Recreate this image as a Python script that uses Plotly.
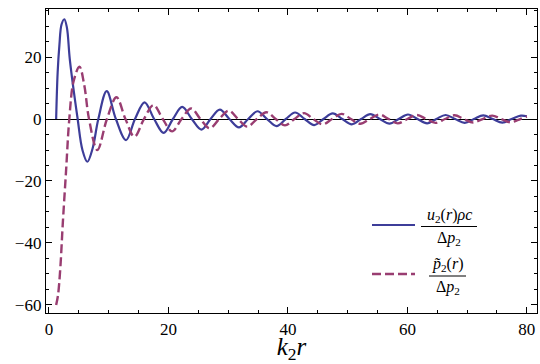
import plotly.graph_objects as go

# solid curve: u2(r) rho c / Delta p2
u_x = [1.2, 1.45, 1.75, 2.1, 2.57, 3.0, 3.5, 4.8, 5.6, 6.42, 7.3, 8.26, 9.66, 11.2, 12.9, 14.4,
       16.0, 17.6, 19.2, 20.75, 22.3, 23.9, 25.5, 27.05, 28.6, 30.2, 31.8, 33.35, 34.9, 36.5,
       38.1, 39.65, 41.2, 42.8, 44.4, 45.95, 47.5, 49.1, 50.7, 52.25, 53.8, 55.4, 57.0, 58.55,
       60.1, 61.7, 63.3, 64.85, 66.4, 68.0, 69.6, 71.15, 72.7, 74.3, 75.9, 77.45, 79.0, 80.0]
u_y = [0, 15, 24, 30.5, 32.2, 29.5, 19, 0, -10, -13.8, -9.5, 0, 9.0, 0, -6.8, 0,
       5.4, 0, -4.5, 0, 3.9, 0, -3.4, 0, 3.0, 0, -2.7, 0, 2.5, 0,
       -2.3, 0, 2.1, 0, -1.95, 0, 1.8, 0, -1.7, 0, 1.6, 0, -1.5, 0,
       1.45, 0, -1.4, 0, 1.3, 0, -1.25, 0, 1.2, 0, -1.15, 0, 1.1, 0.9]

# dashed curve: p~2(r) / Delta p2
p_x = [1.2, 1.5, 1.9, 2.3, 2.85, 3.4, 4.1, 5.1, 5.9, 6.7, 8.1, 9.7, 11.3, 12.8, 14.3, 15.9,
       17.5, 19.05, 20.6, 22.2, 23.8, 25.35, 26.9, 28.5, 30.1, 31.65, 33.2, 34.8, 36.4, 37.95,
       39.5, 41.1, 42.7, 44.25, 45.8, 47.4, 49.0, 50.55, 52.1, 53.7, 55.3, 56.85, 58.4, 60.0,
       61.6, 63.15, 64.7, 66.3, 67.9, 69.45, 71.0, 72.6, 74.2, 75.75, 77.3, 78.9, 80.0]
p_y = [-60, -57, -48, -34, -17, 0, 12, 16.9, 11, 0, -10, 0, 7.0, 0, -5.7, 0,
       4.5, 0, -4.0, 0, 3.4, 0, -3.0, 0, 2.7, 0, -2.45, 0, 2.2, 0,
       -2.05, 0, 1.9, 0, -1.75, 0, 1.65, 0, -1.55, 0, 1.45, 0, -1.4, 0,
       1.3, 0, -1.25, 0, 1.2, 0, -1.15, 0, 1.1, 0, -1.05, 0, 0.8]

x_ticks = [0, 20, 40, 60, 80]
y_ticks = [-60, -40, -20, 0, 20]

# legend labels (fractions)
num_u = "<i>u</i><sub>2</sub>(<i>r</i>)<i>ρc</i>"
den_u = "Δ<i>p</i><sub>2</sub>"
num_p = "<i>p̃</i><sub>2</sub>(<i>r</i>)"
den_p = "Δ<i>p</i><sub>2</sub>"

BLUE = "#3d3d99"
PURPLE = "#993d71"
FONT = "Liberation Serif"
DASH = "9px,4px"

fig = go.Figure()
fig.add_trace(go.Scatter(x=u_x, y=u_y, mode="lines", showlegend=False,
                         line=dict(color=BLUE, width=2.2, shape="spline", smoothing=1.0)))
fig.add_trace(go.Scatter(x=p_x, y=p_y, mode="lines", showlegend=False,
                         line=dict(color=PURPLE, width=2.4, shape="spline", smoothing=1.0,
                                   dash=DASH)))

fig.update_xaxes(range=[-0.5, 81.7], tickvals=x_ticks, zeroline=False,
                 showline=True, linecolor="black", linewidth=1.4, mirror="allticks",
                 ticks="inside", ticklen=6, tickwidth=1, tickcolor="black", showgrid=False,
                 tickfont=dict(family=FONT, size=17, color="black"),
                 minor=dict(dtick=5, ticks="inside", ticklen=3, tickcolor="black", showgrid=False),
                 title=dict(text="<i>k</i><sub>2</sub><i>r</i>",
                            font=dict(family=FONT, size=25, color="black"), standoff=2))
fig.update_yaxes(range=[-62.6, 35.5], tickvals=y_ticks, zeroline=True, zerolinecolor="black",
                 zerolinewidth=1,
                 showline=True, linecolor="black", linewidth=1.4, mirror="allticks",
                 ticks="inside", ticklen=6, tickwidth=1, tickcolor="black", showgrid=False,
                 tickfont=dict(family=FONT, size=17, color="black"),
                 minor=dict(dtick=5, ticks="inside", ticklen=3, tickcolor="black", showgrid=False))

# legend drawn manually (samples + fraction labels), positions in paper coords
def px2xp(px):
    return (px - 46) / 491.0

def py2yp(py):
    return (313 - py) / 304.0

shapes = []
annots = []
entries = [
    (225, 226.5, 421, 477, num_u, den_u, dict(color=BLUE, width=2.2)),
    (274, 276.0, 429, 466, num_p, den_p, dict(color=PURPLE, width=2.4, dash=DASH)),
]
for ys, yb, bx0, bx1, num, den, ln in entries:
    shapes.append(dict(type="line", xref="paper", yref="paper",
                       x0=px2xp(372), x1=px2xp(415), y0=py2yp(ys), y1=py2yp(ys), line=ln))
    shapes.append(dict(type="line", xref="paper", yref="paper",
                       x0=px2xp(bx0), x1=px2xp(bx1), y0=py2yp(yb), y1=py2yp(yb),
                       line=dict(color="black", width=1)))
    cx = px2xp((bx0 + bx1) / 2)
    annots.append(dict(text=num, xref="paper", yref="paper", x=cx, y=py2yp(yb - 1),
                       xanchor="center", yanchor="bottom", showarrow=False,
                       font=dict(family=FONT, size=16, color="black"), borderpad=0))
    annots.append(dict(text=den, xref="paper", yref="paper", x=cx, y=py2yp(yb + 1),
                       xanchor="center", yanchor="top", showarrow=False,
                       font=dict(family=FONT, size=16, color="black"), borderpad=0))

fig.update_layout(
    template="none",
    width=540, height=364,
    margin=dict(l=46, r=3, t=9, b=51),
    paper_bgcolor="white", plot_bgcolor="white",
    showlegend=False,
    shapes=shapes,
    annotations=annots,
)

fig.write_html("out.html")
